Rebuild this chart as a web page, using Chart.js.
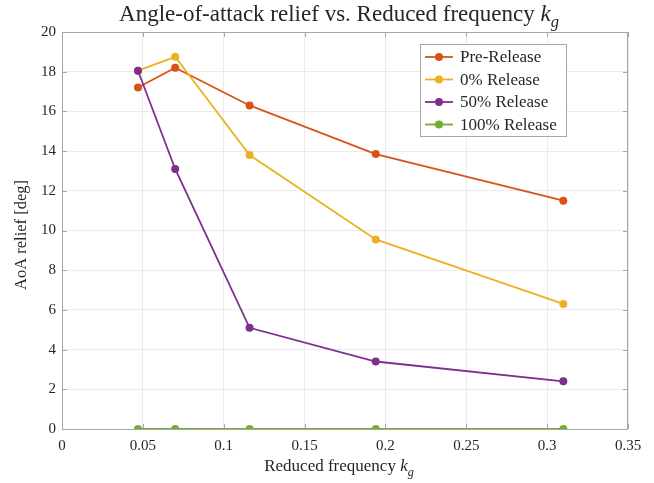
<!DOCTYPE html>
<html>
<head>
<meta charset="utf-8">
<script src="https://cdn.jsdelivr.net/npm/chart.js@4/dist/chart.umd.min.js"></script>
<style>
  html, body { margin: 0; padding: 0; background: #fff; }
  #wrap { width: 654px; height: 483px; position: relative; }
</style>
</head>
<body>
<div id="wrap"><canvas id="c" width="654" height="483"></canvas></div>
<script>
// Reduced frequency of each test case
const kg = [0.047, 0.07, 0.116, 0.194, 0.31];

// Angle-of-attack relief [deg] per release configuration
const preRelease = [17.2, 18.2, 16.3, 13.85, 11.5];
const release0 = [18.05, 18.75, 13.8, 9.55, 6.3];
const release50 = [18.05, 13.1, 5.1, 3.4, 2.4];
const release100 = [0, 0, 0, 0, 0];

const seriesLabels = ['Pre-Release', '0% Release', '50% Release', '100% Release'];
const seriesColors = ['#D95319', '#EDB120', '#7E2F8E', '#77AC30'];

const xTicks = [0, 0.05, 0.1, 0.15, 0.2, 0.25, 0.3, 0.35];
const yTicks = [0, 2, 4, 6, 8, 10, 12, 14, 16, 18, 20];

const SERIF = "'Liberation Serif', 'DejaVu Serif', serif";
const AXIS_GRAY = '#a6a6a6';

const seriesValues = [preRelease, release0, release50, release100];
const datasets = seriesValues.map((vals, i) => ({
  label: seriesLabels[i],
  data: kg.map((x, j) => ({ x: x, y: vals[j] })),
  borderColor: seriesColors[i],
  backgroundColor: seriesColors[i],
  pointBackgroundColor: seriesColors[i],
  pointBorderColor: seriesColors[i],
  borderWidth: 1.8,
  pointRadius: 4,
  pointBorderWidth: 0,
  tension: 0,
  order: seriesValues.length - 1 - i
}));

// Draw text made of runs (normal / italic / subscript)
function drawRuns(ctx, runs, cx, cy, size) {
  const fontFor = r => (r.italic ? 'italic ' : '') + (r.sub ? size * 0.72 : size) + 'px ' + SERIF;
  let total = 0;
  runs.forEach(r => { ctx.font = fontFor(r); total += ctx.measureText(r.text).width; });
  let x = cx - total / 2;
  runs.forEach(r => {
    ctx.font = fontFor(r);
    ctx.textAlign = 'left';
    ctx.textBaseline = 'middle';
    ctx.fillText(r.text, x, cy + (r.sub ? size * 0.32 : 0));
    x += ctx.measureText(r.text).width;
  });
}

const decorations = {
  id: 'decorations',
  beforeDatasetsDraw(chart) {
    const { ctx, chartArea: a, scales } = chart;
    ctx.save();
    ctx.strokeStyle = AXIS_GRAY;
    ctx.lineWidth = 1;
    // frame
    ctx.strokeRect(Math.round(a.left) + 0.5, Math.round(a.top) + 0.5,
                   Math.round(a.right - a.left) - 1, Math.round(a.bottom - a.top));
    // inward ticks on all four sides
    const tl = 5;
    ctx.beginPath();
    xTicks.forEach(v => {
      const px = Math.round(scales.x.getPixelForValue(v)) + 0.5;
      ctx.moveTo(px, a.bottom); ctx.lineTo(px, a.bottom - tl);
      ctx.moveTo(px, a.top); ctx.lineTo(px, a.top + tl);
    });
    yTicks.forEach(v => {
      const py = Math.round(scales.y.getPixelForValue(v)) + 0.5;
      ctx.moveTo(a.left, py); ctx.lineTo(a.left + tl, py);
      ctx.moveTo(a.right, py); ctx.lineTo(a.right - tl, py);
    });
    ctx.stroke();
    ctx.restore();
  },
  afterDraw(chart) {
    const { ctx, chartArea: a } = chart;
    ctx.save();
    ctx.fillStyle = '#262626';
    // title
    drawRuns(ctx, [
      { text: 'Angle-of-attack relief vs. Reduced frequency ' },
      { text: 'k', italic: true },
      { text: 'g', italic: true, sub: true }
    ], 339, 15, 23);
    // x axis label
    drawRuns(ctx, [
      { text: 'Reduced frequency ' },
      { text: 'k', italic: true },
      { text: 'g', italic: true, sub: true }
    ], 339, 467, 17);
    // y axis label
    ctx.translate(22, 235);
    ctx.rotate(-Math.PI / 2);
    drawRuns(ctx, [{ text: 'AoA relief [deg]' }], 0, 0, 16.5);
    ctx.restore();

    // legend
    ctx.save();
    const lx = 420, ly = 44, lw = 146, lh = 92, rowH = 22.5;
    ctx.fillStyle = '#fff';
    ctx.fillRect(lx, ly, lw, lh);
    ctx.strokeStyle = AXIS_GRAY;
    ctx.lineWidth = 1;
    ctx.strokeRect(lx + 0.5, ly + 0.5, lw, lh);
    chart.data.datasets.forEach((ds, i) => {
      const y = ly + 13 + i * rowH;
      ctx.strokeStyle = ds.borderColor;
      ctx.lineWidth = 1.8;
      ctx.beginPath();
      ctx.moveTo(lx + 5, y); ctx.lineTo(lx + 33, y);
      ctx.stroke();
      ctx.fillStyle = ds.borderColor;
      ctx.beginPath();
      ctx.arc(lx + 19, y, 4, 0, Math.PI * 2);
      ctx.fill();
      ctx.fillStyle = '#262626';
      ctx.font = '17px ' + SERIF;
      ctx.textAlign = 'left';
      ctx.textBaseline = 'middle';
      ctx.fillText(ds.label, lx + 40, y + 1);
    });
    ctx.restore();
  }
};

const fmt = v => String(Number(v.toFixed(2)));

new Chart(document.getElementById('c'), {
  type: 'line',
  data: { datasets: datasets },
  options: {
    responsive: false,
    animation: false,
    devicePixelRatio: 1,
    layout: { padding: { top: 32, right: 26, left: 0, bottom: 0 } },
    plugins: { legend: { display: false }, tooltip: { enabled: false }, title: { display: false } },
    scales: {
      x: {
        type: 'linear',
        min: 0, max: 0.35,
        afterBuildTicks: s => { s.ticks = xTicks.map(v => ({ value: v })); },
        afterFit: s => { s.height = 54; },
        grid: { color: '#ebebeb', drawTicks: false, lineWidth: 1 },
        border: { display: false },
        ticks: { color: '#262626', font: { family: SERIF, size: 15 }, padding: 8, callback: v => fmt(v), maxRotation: 0 }
      },
      y: {
        type: 'linear',
        min: 0, max: 20,
        afterBuildTicks: s => { s.ticks = yTicks.map(v => ({ value: v })); },
        afterFit: s => { s.width = 62; },
        grid: { color: '#ebebeb', drawTicks: false, lineWidth: 1 },
        border: { display: false },
        ticks: { color: '#262626', font: { family: SERIF, size: 15 }, padding: 6, callback: v => fmt(v) }
      }
    }
  },
  plugins: [decorations]
});
</script>
</body>
</html>
